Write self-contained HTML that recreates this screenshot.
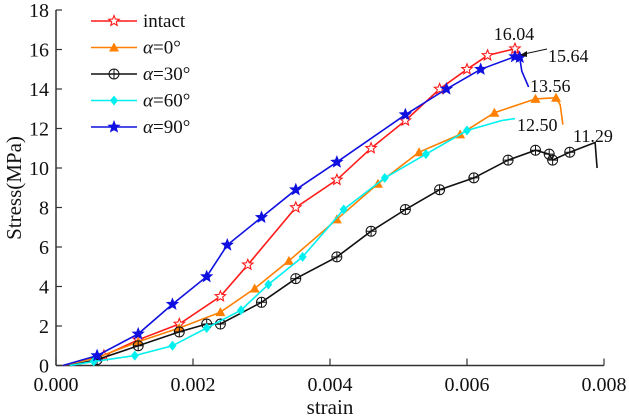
<!DOCTYPE html>
<html><head><meta charset="utf-8"><style>
body{margin:0;background:#fff;}
svg{display:block;}
text{font-family:"Liberation Serif","Times New Roman",serif;}
</style></head><body>
<svg id="chart" width="629" height="418" viewBox="0 0 629 418" font-family="Liberation Serif, serif">
<g id="axes"></g><g id="series"></g><g id="legend"></g>
</svg>
<script>
const xTicks=[0,0.002,0.004,0.006,0.008];
const xTickLabels=["0.000","0.002","0.004","0.006","0.008"];
const yTicks=[0,2,4,6,8,10,12,14,16,18];
const intactX=[0.0001,0.0007,0.0012,0.0018,0.0024,0.0028,0.0035,0.0041,0.0046,0.0051,0.0056,0.006,0.0063,0.0067,0.00675,0.00675];
const intactY=[0,0.5,1.3,2.1,3.5,5.1,8,9.4,11,12.4,14,15,15.7,16.04,15.9,15.5];
const a0X=[0.0001,0.0006,0.0012,0.0018,0.0024,0.0029,0.0034,0.0041,0.0047,0.0053,0.0059,0.0064,0.007,0.0073,0.00736,0.0074];
const a0Y=[0,0.4,1.2,1.9,2.7,3.9,5.3,7.4,9.2,10.8,11.7,12.8,13.5,13.56,13.2,12.2];
const a30X=[0.0002,0.0006,0.0012,0.0018,0.0022,0.0024,0.003,0.0035,0.0041,0.0046,0.0051,0.0056,0.0061,0.0066,0.007,0.0072,0.00725,0.0075,0.00787,0.0079];
const a30Y=[0,0.3,1.0,1.7,2.1,2.1,3.2,4.4,5.5,6.8,7.9,8.9,9.5,10.4,10.9,10.7,10.4,10.8,11.29,10.0];
const a60X=[0.0002,0.00055,0.00115,0.0017,0.0022,0.0027,0.0031,0.0036,0.0042,0.0048,0.0054,0.006,0.0065,0.0067];
const a60Y=[0,0.2,0.5,1.0,1.9,2.8,4.1,5.5,7.9,9.5,10.7,11.9,12.4,12.5];
const a90X=[0.0001,0.0006,0.0012,0.0017,0.0022,0.0025,0.003,0.0035,0.0041,0.0051,0.0057,0.0062,0.0067,0.00677,0.0068,0.0069];
const a90Y=[0,0.5,1.6,3.1,4.5,6.1,7.5,8.9,10.3,12.7,14,15,15.64,15.6,14.9,14.1];
const peakLabels=["16.04","15.64","13.56","12.50","11.29"];

const NS="http://www.w3.org/2000/svg";
const FF="Liberation Serif, serif";
const X0=56,X1=604,Y0=365.5,Y1=10;
const sx=v=>X0+v/0.008*(X1-X0);
const sy=v=>Y0-v/18*(Y0-Y1);
function mk(tag,attrs,parent){const e=document.createElementNS(NS,tag);for(const k in attrs)e.setAttribute(k,attrs[k]);if(tag==='text')e.setAttribute('font-family',FF);parent.appendChild(e);return e;}
const axes=document.getElementById('axes'),series=document.getElementById('series'),legend=document.getElementById('legend');
let e=mk('line',{x1:X0,y1:Y0,x2:X1,y2:Y0,stroke:'#333','stroke-width':1.5},axes);


e=mk('line',{x1:X0,y1:Y0,x2:X0,y2:Y1,stroke:'#333','stroke-width':1.5},axes);


xTicks.forEach((t,i)=>{
 mk('line',{x1:sx(t),y1:Y0,x2:sx(t),y2:Y0-7,stroke:'#333','stroke-width':1.2},axes);
 const tx=mk('text',{x:sx(t),y:391,'text-anchor':'middle','font-size':20,fill:'#111'},axes);
 tx.textContent=xTickLabels[i];
 
 
});
yTicks.forEach(t=>{
 mk('line',{x1:X0,y1:sy(t),x2:X0+6,y2:sy(t),stroke:'#333','stroke-width':1.2},axes);
 const tx=mk('text',{x:49,y:sy(t)+7,'text-anchor':'end','font-size':20,fill:'#111'},axes);
 tx.textContent=String(t);
 
 
});
e=mk('text',{x:330,y:414,'text-anchor':'middle','font-size':21,fill:'#111'},axes);
e.textContent='strain';


e=mk('text',{x:0,y:0,'text-anchor':'middle','font-size':21,fill:'#111',transform:'translate(21,188) rotate(-90)'},axes);
e.textContent='Stress(MPa)';



function marker(type,x,y,color,parent){
 let m;
 if(type==='star'||type==='hstar'){
  let p=[];for(let i=0;i<10;i++){const r=i%2?2.4:5.5,a=-Math.PI/2+i*Math.PI/5;p.push((x+r*Math.cos(a)).toFixed(1)+','+(y+r*Math.sin(a)).toFixed(1));}
  m=mk('polygon',{points:p.join(' '),fill:type==='star'?color:'#fff',stroke:color,'stroke-width':1.1},parent);
 }else if(type==='tri'){m=mk('polygon',{points:`${x},${y-5} ${x-5},${y+4} ${x+5},${y+4}`,fill:color},parent);}
 else if(type==='diamond'){m=mk('polygon',{points:`${x},${y-5} ${x+4},${y} ${x},${y+5} ${x-4},${y}`,fill:color},parent);}
 else{m=mk('g',{},parent);mk('circle',{cx:x,cy:y,r:5,fill:'none',stroke:color,'stroke-width':1},m);mk('path',{d:`M${x-5},${y}H${x+5}M${x},${y-5}V${y+5}`,stroke:color,'stroke-width':1},m);}
 return m;
}
const defs=[
 {name:'intact',xs:intactX,ys:intactY,color:'#ff1a1a',m:'hstar',label:'intact'},
 {name:'alpha-0',xs:a0X,ys:a0Y,color:'#ff8000',m:'tri',label:'0°'},
 {name:'alpha-30',xs:a30X,ys:a30Y,color:'#111',m:'circ',label:'30°'},
 {name:'alpha-60',xs:a60X,ys:a60Y,color:'#00f0f0',m:'diamond',label:'60°'},
 {name:'alpha-90',xs:a90X,ys:a90Y,color:'#1010e0',m:'star',label:'90°'}
];
defs.forEach((d,si)=>{
 const g=mk('g',{},series);
 
 
 const pts=d.xs.map((x,i)=>sx(x).toFixed(1)+','+sy(d.ys[i]).toFixed(1)).join(' ');
 const pl=mk('polyline',{points:pts,fill:'none',stroke:d.color,'stroke-width':1.6},g);
 
 
 for(let i=1;i<d.xs.length-2;i++){const mm=marker(d.m,sx(d.xs[i]),sy(d.ys[i]),d.color,g);
  
  }
 const ly=21+si*26.5;
 const lg=mk('g',{},legend);
 
 
 mk('line',{x1:91,y1:ly,x2:137,y2:ly,stroke:d.color,'stroke-width':1.6},lg);
 marker(d.m,114,ly,d.color,lg);
 const t=mk('text',{x:143,y:ly+6,'font-size':19,fill:'#111'},lg);
 if(si===0)t.textContent='intact';
 else{const ts=mk('tspan',{'font-style':'italic'},t);ts.textContent='α';const t2=mk('tspan',{},t);t2.textContent='='+d.label;}
});
const annos=[[514,40,'middle'],[548,62,'start'],[530,92,'start'],[517,131,'start'],[573,142,'start']];
annos.forEach((a,i)=>{const t=mk('text',{x:a[0],y:a[1],'text-anchor':a[2],'font-size':18,fill:'#111'},series);
 t.textContent=peakLabels[i];
 
 });
mk('line',{x1:547,y1:49,x2:524,y2:54,stroke:'#111','stroke-width':1},series);
mk('polygon',{points:'520,55 527,51 527,57',fill:'#111'},series);
</script>
</body></html>
